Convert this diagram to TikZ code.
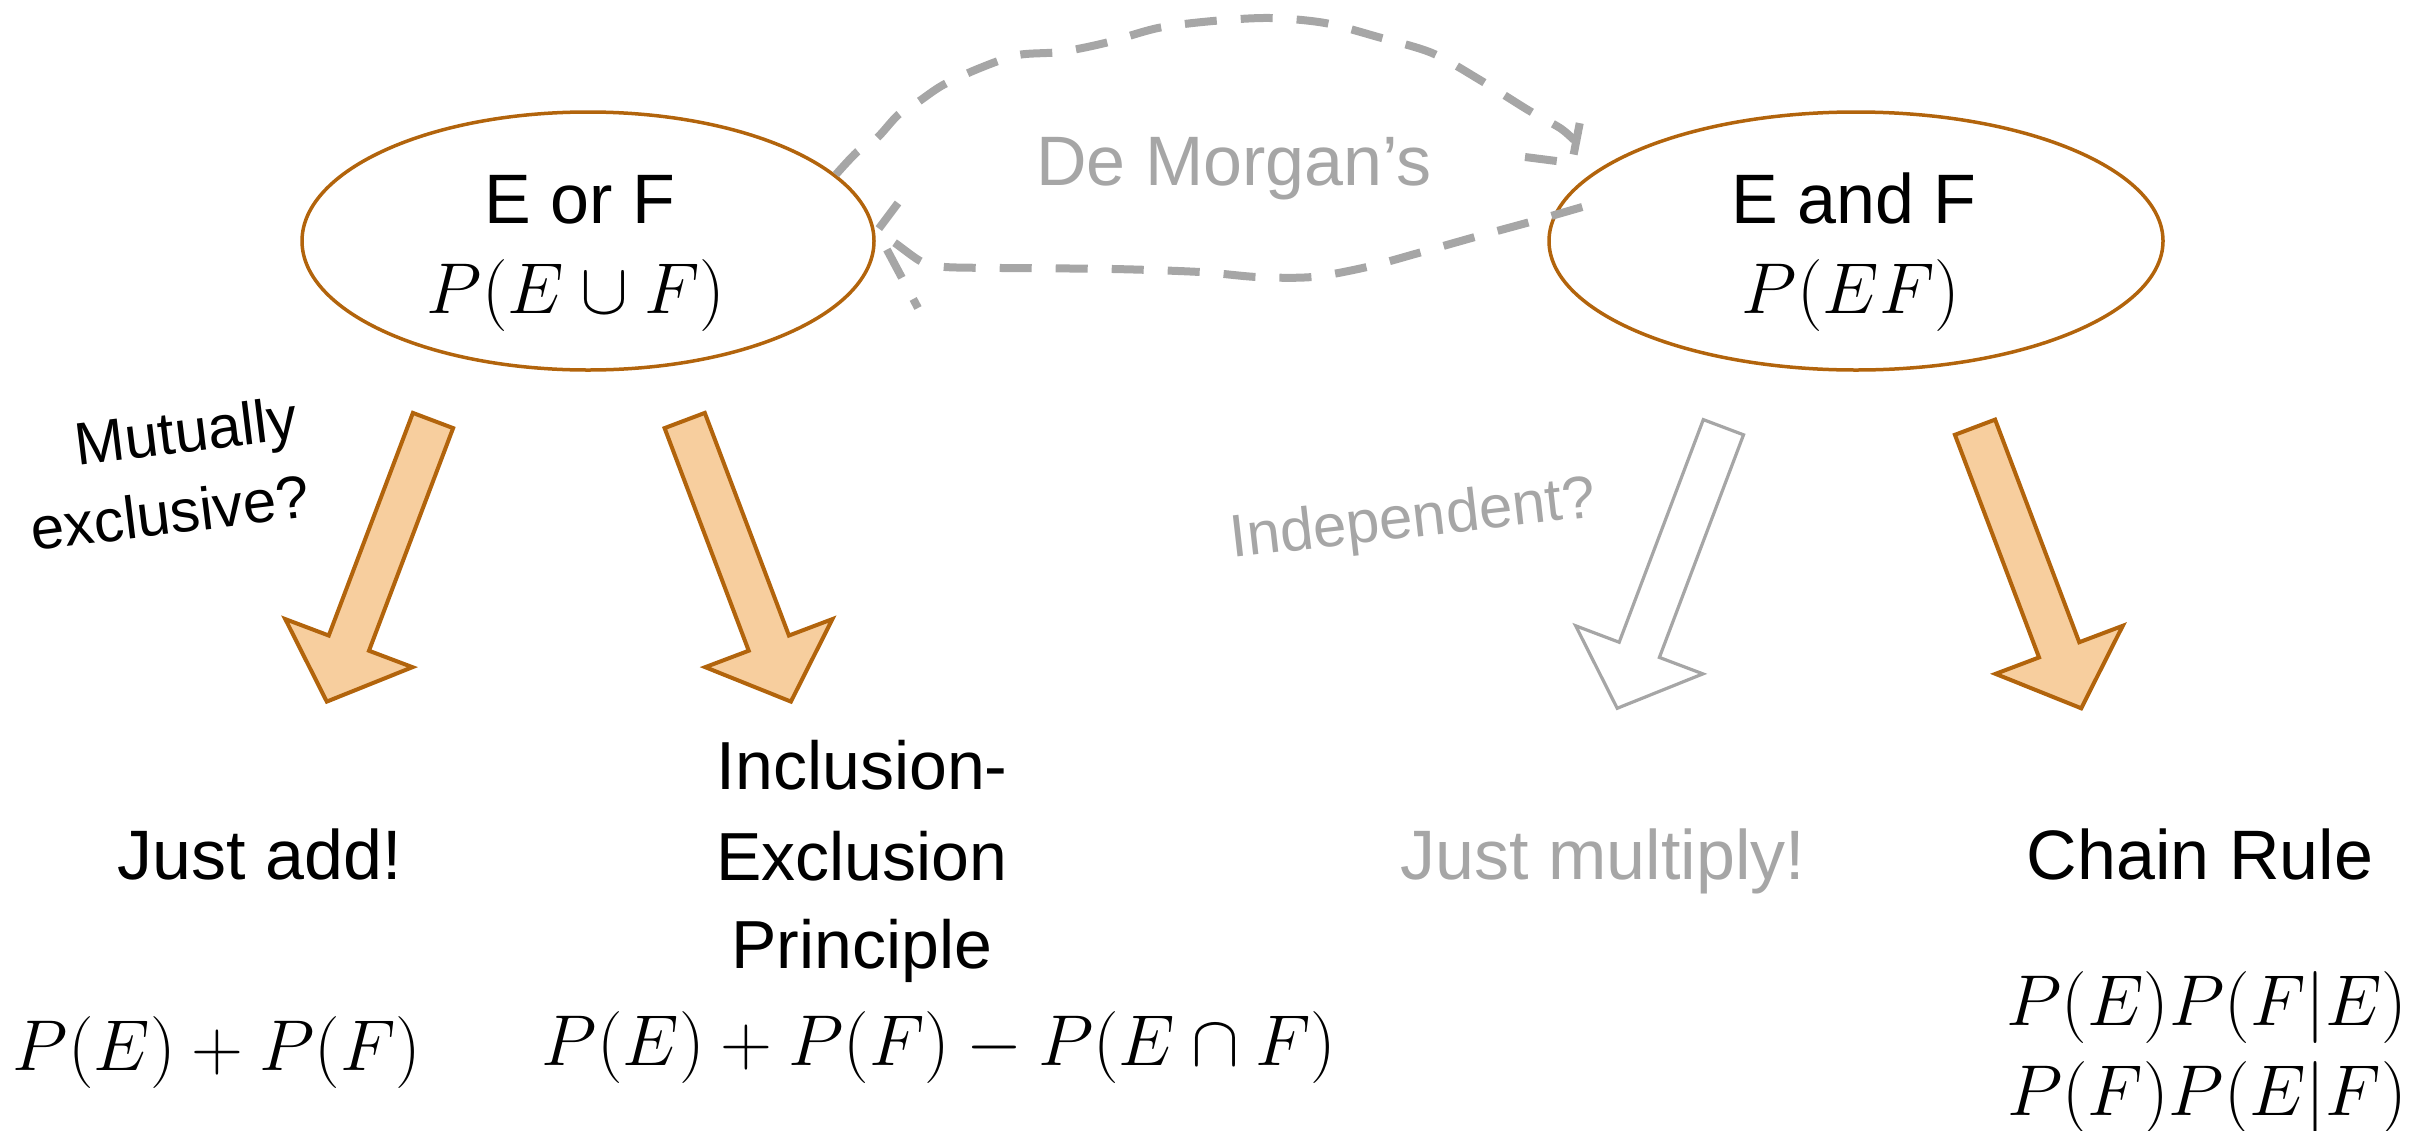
\RequirePackage{fix-cm}
\documentclass[tikz,border=0pt]{standalone}
\usepackage[no-math]{fontspec}
\setmainfont{Liberation Sans}
\usetikzlibrary{shapes.geometric,calc}
\definecolor{brn}{RGB}{178,100,12}
\definecolor{peach}{RGB}{247,206,158}
\definecolor{lgray}{RGB}{166,166,166}
\tikzset{
 ell/.style={ellipse, draw=brn, line width=1.75pt, inner sep=0pt},
 lbl/.style={anchor=base, inner sep=0pt, font=\fontsize{35}{42}\selectfont},
 mth/.style={anchor=base, inner sep=0pt, font=\fontsize{36}{42}\selectfont},
 glbl/.style={lbl, text=lgray},
 rotlbl/.style={anchor=base, inner sep=0pt, font=\fontsize{30}{39.75}\selectfont},
 dm/.style={draw=lgray, line width=4pt, dash pattern=on 16pt off 12pt},
 orangearrow/.style={draw=brn, fill=peach, line width=2pt},
 grayarrow/.style={draw=lgray, fill=white, line width=1.6pt},
 pics/blockarrow/.style={code={\path[#1] (-21.5,0) -- (21.5,0) -- (21.5,238) -- (68,238) -- (0,300.5) -- (-68,238) -- (-21.5,238) -- cycle;}}
}
\begin{document}
\begin{tikzpicture}[x=0.5pt,y=-0.5pt]
\useasboundingbox (0,0) rectangle (2419,1130);
% ellipses
\node[ell, minimum width=286pt, minimum height=129pt] (eor) at (588,241) {};
\node[ell, minimum width=307pt, minimum height=129pt] (eand) at (1856,241) {};
\node[lbl] (eortxt) at (580,223) {E or F};
\node[mth] (eormath) at (576,313) {$P(E\cup F)$};
\node[lbl] (eandtxt) at (1854,223) {E and F};
\node[mth] (eandmath) at (1851,313) {$P(EF)$};
% De Morgan
\node[glbl] (dmtxt) at (1234,185) {De Morgan’s};
\coordinate (upend) at (1574,140);
\coordinate (uptip) at (1572,163);
\coordinate (lostart) at ($(eand.west)+(35,-34)$);
\coordinate (lotip) at (877,231);
\draw[dm] plot[smooth, tension=0.5] coordinates {(eor.15) (857,152) (877,138) (898,115) (918,102) (943,85) (980,68) (1018,55) (1060,52) (1105,43) (1158,28) (1213,21) (1270,18) (1325,23) (1378,37) (1432,53) (1480,80) (1528,110) (1560,128) (upend)};
\draw[dm] (1525,157) -- (uptip) -- (1584,101);
\draw[dm] plot[smooth, tension=0.5] coordinates {(lostart) (1530,222) (1475,237) (1422,252) (1367,267) (1312,277) (1257,277) (1200,272) (1113,269) (1002,268) (945,267) (922,262) (895,243) (lotip)};
\draw[dm] (898,203) -- (lotip) -- (918,308);
% block arrows
\pic[rotate=-20.7] at (433,420.5) {blockarrow=orangearrow};
\pic[rotate=20.7] at (684.7,420.5) {blockarrow=orangearrow};
\pic[rotate=-20.7] at (1723.4,427.2) {blockarrow=grayarrow};
\pic[rotate=20.7] at (1975,427.2) {blockarrow=orangearrow};
% arrow labels
\node[rotlbl, rotate=7, anchor=center, align=center] (mut) at (191,470) {Mutually\\\hspace*{-26pt}exclusive?};
\node[rotlbl, rotate=6.5, text=lgray] (indep) at (1415,537) {Independent?};
% results
\node[lbl] (justadd) at (260,879) {Just add!};
\node[mth] (addmath) at (217,1070) {$P(E)+P(F)$};
\node[lbl, font=\fontsize{34}{42}\selectfont] (ie1) at (862,789) {Inclusion-};
\node[lbl, font=\fontsize{34}{42}\selectfont] (ie2) at (862,880) {Exclusion};
\node[lbl, font=\fontsize{34}{42}\selectfont] (ie3) at (862,968) {Principle};
\node[mth] (iemath) at (939,1065) {$P(E)+P(F)-P(E\cap F)$};
\node[glbl] (justmul) at (1603,879) {Just multiply!};
\node[lbl] (chain) at (2200,879) {Chain Rule};
\node[mth] (ch1) at (2207,1025) {$P(E)P(F|E)$};
\node[mth] (ch2) at (2207,1115) {$P(F)P(E|F)$};
\end{tikzpicture}
\end{document}
